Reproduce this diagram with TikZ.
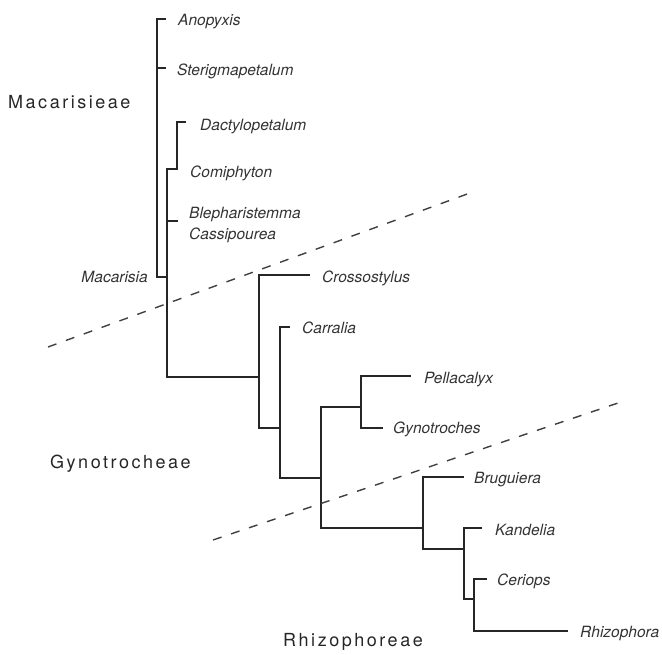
\documentclass[tikz,border=0pt]{standalone}
\usepackage{fontspec}
\setmainfont{TeX Gyre Heros}
\begin{document}
\begin{tikzpicture}[x=1pt,y=-1pt,
  br/.style={line width=1.1pt, draw=black!85, line cap=rect},
  taxon/.style={anchor=base west, inner sep=0pt, font=\fontsize{15.5}{18}\selectfont\itshape, text=black!80},
  grp/.style={anchor=base west, inner sep=0pt, font=\fontsize{18}{22}\selectfont\addfontfeature{LetterSpace=14}, text=black!85},
  split/.style={dash pattern=on 9pt off 10pt, line width=1.4pt, draw=black!75}]
\useasboundingbox (0,0) rectangle (662,654);
% junction coordinates
\coordinate (v1t) at (157,19);  \coordinate (v1b) at (157,277);
\coordinate (tA)  at (165,19);
\coordinate (s0)  at (157,68);  \coordinate (tS) at (165,68);
\coordinate (v2t) at (167,169); \coordinate (v2b) at (167,377);
\coordinate (v3t) at (177,122); \coordinate (v3b) at (177,169);
\coordinate (tD)  at (185,122);
\coordinate (bl0) at (167,221); \coordinate (tB) at (177,221);
\coordinate (v4t) at (259,275); \coordinate (v4b) at (259,428);
\coordinate (tC)  at (309,275);
\coordinate (v5t) at (280,327); \coordinate (v5b) at (280,478);
\coordinate (tCa) at (289,327);
\coordinate (v6t) at (321,407); \coordinate (v6b) at (321,528);
\coordinate (v7t) at (361,376); \coordinate (v7b) at (361,428);
\coordinate (tP)  at (410,376); \coordinate (tG) at (382,428);
\coordinate (v8t) at (423,477); \coordinate (v8b) at (423,549);
\coordinate (tBr) at (463,477);
\coordinate (v9t) at (464,528); \coordinate (v9b) at (464,599);
\coordinate (tK)  at (481,528);
\coordinate (v10t) at (474,579); \coordinate (v10b) at (474,631);
\coordinate (tCe) at (486,579); \coordinate (tR) at (567,631);
% branches
\draw[br] (tA) -- (v1t) -- (v1b) -- (v2t |- v1b);
\draw[br] (s0) -- (tS);
\draw[br] (tD) -- (v3t) -- (v3b) -- (v2t) -- (v2b) -- (v4t |- v2b);
\draw[br] (bl0) -- (tB);
\draw[br] (tC) -- (v4t) -- (v4b) -- (v5t |- v4b);
\draw[br] (tCa) -- (v5t) -- (v5b) -- (v6t |- v5b);
\draw[br] (v7t |- v6t) -- (v6t) -- (v6b) -- (v8t |- v6b);
\draw[br] (tP) -- (v7t) -- (v7b) -- (tG);
\draw[br] (tBr) -- (v8t) -- (v8b) -- (v9t |- v8b);
\draw[br] (tK) -- (v9t) -- (v9b) -- (v10t |- v9b);
\draw[br] (tCe) -- (v10t) -- (v10b) -- (tR);
% dividing lines
\coordinate (d1a) at (48,347);  \coordinate (d1b) at (470,193);
\coordinate (d2a) at (213,540); \coordinate (d2b) at (618,403);
\draw[split] (d1a) -- (d1b);
\draw[split] (d2a) -- (d2b);
% taxa
\node[taxon] (nA)  at (178,25)  {Anopyxis};
\node[taxon] (nS)  at (177,75)  {Sterigmapetalum};
\node[taxon] (nD)  at (200,130) {Dactylopetalum};
\node[taxon] (nCo) at (190,177) {Comiphyton};
\node[taxon] (nBl) at (189,218) {Blepharistemma};
\node[taxon] (nCs) at (189,239) {Cassipourea};
\node[taxon, anchor=base east] (nM) at (148,282) {Macarisia};
\node[taxon] (nCr) at (322,282) {Crossostylus};
\node[taxon] (nCa) at (302,333) {Carralia};
\node[taxon] (nP)  at (424,383) {Pellacalyx};
\node[taxon] (nG)  at (393,433) {Gynotroches};
\node[taxon] (nBr) at (474,483) {Bruguiera};
\node[taxon] (nK)  at (495,535) {Kandelia};
\node[taxon] (nCe) at (497,585) {Ceriops};
\node[taxon] (nR)  at (580,637) {Rhizophora};
% groups
\node[grp] (g1) at (8,108)   {Macarisieae};
\node[grp] (g2) at (50,468)  {Gynotrocheae};
\node[grp] (g3) at (283,646) {Rhizophoreae};
\end{tikzpicture}
\end{document}
